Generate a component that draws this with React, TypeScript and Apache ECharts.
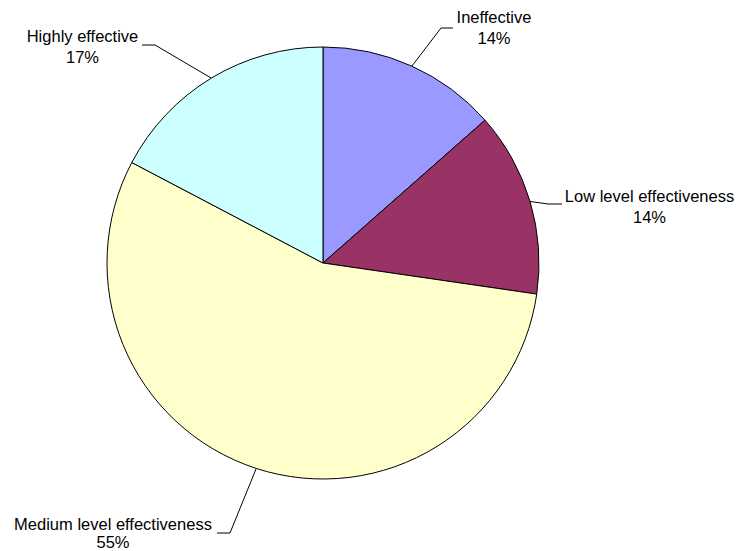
import React, { useEffect, useRef } from "react";
import * as echarts from "echarts";

const categories = [
  "Ineffective",
  "Low level effectiveness",
  "Medium level effectiveness",
  "Highly effective",
];
const values = [13.5, 13.8, 55.4, 17.3];
const colors = ["#9999FF", "#993366", "#FFFFCC", "#CCFFFF"];

// label placement (layout only)
const labelCenters: number[][] = [
  [494, 27.5],
  [649.5, 206],
  [113, 533],
  [82.5, 46.5],
];
const labelLineHeights = [21, 21, 18, 21];
const leaderBends: number[][][] = [
  [[441, 28], [453, 28]],
  [[548, 204], [562, 204]],
  [[230, 533], [217, 533]],
  [[155, 45], [142, 45]],
];

export default function App() {
  const ref = useRef<HTMLDivElement>(null);
  useEffect(() => {
    if (!ref.current) return;
    const chart = echarts.init(ref.current, null, { renderer: "svg" });
    const cx = 323;
    const cy = 263;
    const r = 216;
    const total = values.reduce((a, b) => a + b, 0);
    const mids: number[][] = [];
    let acc = 0;
    values.forEach((v) => {
      const mid = ((acc + v / 2) / total) * Math.PI * 2;
      mids.push([cx + r * Math.sin(mid), cy - r * Math.cos(mid)]);
      acc += v;
    });
    chart.setOption({
      animation: false,
      backgroundColor: "#ffffff",
      series: [
        {
          type: "pie",
          center: [cx, cy],
          radius: [0, r],
          startAngle: 90,
          clockwise: true,
          percentPrecision: 0,
          avoidLabelOverlap: false,
          data: categories.map((name, i) => ({
            name,
            value: values[i],
            itemStyle: { color: colors[i] },
            label: { lineHeight: labelLineHeights[i] },
          })),
          itemStyle: { borderColor: "#000000", borderWidth: 1 },
          emphasis: { disabled: true },
          label: {
            show: true,
            position: "outside",
            formatter: "{b}\n{d}%",
            fontFamily: "Liberation Sans, Arial, sans-serif",
            fontSize: 16.5,
            lineHeight: 21,
            color: "#000000",
            align: "center",
          },
          labelLine: {
            show: true,
            length: 20,
            length2: 10,
            lineStyle: { color: "#000000", width: 1 },
          },
          labelLayout: (params: any) => {
            const i = params.dataIndex;
            const c = labelCenters[i];
            const b = leaderBends[i];
            return {
              x: c[0],
              y: c[1],
              align: "center",
              verticalAlign: "middle",
              labelLinePoints: [mids[i], b[0], b[1]],
            };
          },
        },
      ],
    });
    return () => chart.dispose();
  }, []);
  return (
    <div
      ref={ref}
      style={{ position: "fixed", left: 0, top: 0, width: 737, height: 551 }}
    />
  );
}
